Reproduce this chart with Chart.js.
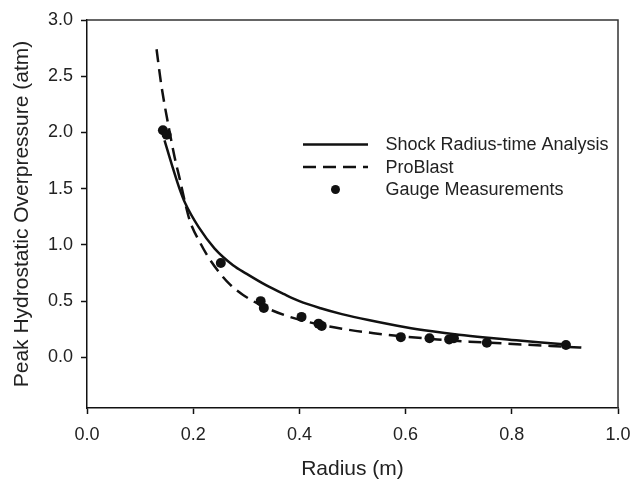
<!DOCTYPE html>
<html><head><meta charset="utf-8">
<script src="https://cdn.jsdelivr.net/npm/chart.js@4/dist/chart.umd.min.js"></script>
<style>html,body{margin:0;padding:0;background:#fff}</style>
</head><body>
<canvas id="c" width="632" height="482"></canvas>
<script>
// Shock Radius-time Analysis (solid)
const shockRadius = [0.146,0.16,0.175,0.185,0.21,0.24,0.275,0.30,0.338,0.37,0.40,0.44,0.48,0.53,0.60,0.65,0.70,0.75,0.80,0.85,0.903];
const shockPressure = [1.93,1.71,1.49,1.37,1.16,0.97,0.82,0.745,0.64,0.565,0.50,0.437,0.385,0.332,0.268,0.232,0.202,0.177,0.155,0.134,0.115];
// ProBlast (dashed)
const proRadius = [0.131,0.14,0.155,0.165,0.175,0.185,0.194,0.213,0.23,0.25,0.27,0.294,0.338,0.382,0.43,0.48,0.54,0.60,0.66,0.72,0.78,0.84,0.90,0.941];
const proPressure = [2.74,2.42,2.02,1.78,1.58,1.37,1.21,1.02,0.88,0.75,0.645,0.555,0.44,0.36,0.30,0.255,0.215,0.185,0.16,0.14,0.125,0.11,0.095,0.085];
// Gauge Measurements (dots)
const gaugeRadius = [0.143,0.150,0.252,0.327,0.333,0.404,0.436,0.442,0.591,0.645,0.682,0.691,0.753,0.902];
const gaugePressure = [2.02,1.98,0.84,0.50,0.44,0.36,0.30,0.28,0.18,0.17,0.16,0.17,0.13,0.11];
// Tick labels
const xTicks = [0.0,0.2,0.4,0.6,0.8,1.0];
const yTicks = [0.0,0.5,1.0,1.5,2.0,2.5,3.0];
const seriesNames = ['Shock Radius-time Analysis','ProBlast','Gauge Measurements'];

const INK = '#111';
const TXT = '#222';
const FONT = "'Liberation Sans', Arial, sans-serif";

const pts = (xs, ys) => xs.map((x, i) => ({x, y: ys[i]}));

const framePlugin = {
  id: 'frame',
  afterDatasetsDraw(chart) {
    const {ctx, chartArea: a} = chart;
    ctx.save();
    ctx.strokeStyle = '#333';
    ctx.lineWidth = 1.5;
    ctx.beginPath();
    ctx.moveTo(a.left, a.top);
    ctx.lineTo(a.right, a.top);
    ctx.lineTo(a.right, a.bottom);
    ctx.stroke();
    ctx.restore();
  }
};

const legendPlugin = {
  id: 'customLegend',
  afterDraw(chart) {
    const {ctx} = chart;
    const x0 = 303, x1 = 368, tx = 385.5;
    const rows = [144.5, 167, 189.5];
    ctx.save();
    chart.data.datasets.forEach((ds, i) => {
      const y = rows[i];
      if (ds.showLine) {
        ctx.strokeStyle = ds.borderColor;
        ctx.lineWidth = ds.borderWidth;
        ctx.setLineDash(ds.borderDash || []);
        ctx.beginPath();
        ctx.moveTo(x0, y);
        ctx.lineTo(x1, y);
        ctx.stroke();
        ctx.setLineDash([]);
      } else {
        ctx.fillStyle = ds.backgroundColor;
        ctx.beginPath();
        ctx.arc((x0 + x1) / 2, y, 4.5, 0, Math.PI * 2);
        ctx.fill();
      }
      ctx.fillStyle = TXT;
      ctx.font = "18px " + FONT;
      ctx.textBaseline = 'middle';
      ctx.textAlign = 'left';
      ctx.fillText(ds.label, tx, y + 1);
    });
    ctx.restore();
  }
};

new Chart(document.getElementById('c'), {
  type: 'scatter',
  data: {
    datasets: [
      { label: seriesNames[0], data: pts(shockRadius, shockPressure), showLine: true,
        borderColor: INK, borderWidth: 2.5, pointRadius: 0, cubicInterpolationMode: 'monotone', fill: false },
      { label: seriesNames[1], data: pts(proRadius, proPressure), showLine: true,
        borderColor: INK, borderWidth: 2.5, borderDash: [13, 7], pointRadius: 0, cubicInterpolationMode: 'monotone', fill: false },
      { label: seriesNames[2], data: pts(gaugeRadius, gaugePressure), showLine: false,
        backgroundColor: INK, borderColor: INK, pointRadius: 5, pointBorderWidth: 0 }
    ]
  },
  options: {
    responsive: false,
    animation: false,
    events: [],
    layout: { padding: { left: 0, right: 0, top: 20, bottom: 0 } },
    plugins: { legend: { display: false }, tooltip: { enabled: false } },
    scales: {
      x: {
        type: 'linear', min: 0, max: 1.0,
        afterBuildTicks: s => { s.ticks = xTicks.map(v => ({value: v})); },
        afterFit: s => { s.height = 74; s.paddingRight = 14; s.paddingLeft = 0; },
        ticks: { padding: 10, color: TXT, font: { size: 18, family: FONT }, callback: v => v.toFixed(1), maxRotation: 0 },
        grid: { display: true, drawOnChartArea: false, drawTicks: true, tickLength: 6, tickColor: INK, tickWidth: 1.5 },
        border: { display: true, color: INK, width: 1.5 },
        title: { display: true, text: 'Radius (m)', color: TXT, font: { size: 21, family: FONT }, padding: { top: 0, bottom: 0 } }
      },
      y: {
        type: 'linear', min: -0.45, max: 3.0,
        afterBuildTicks: s => { s.ticks = yTicks.map(v => ({value: v})); },
        afterFit: s => { s.width = 87; },
        ticks: { padding: 8, color: TXT, font: { size: 18, family: FONT }, callback: v => v.toFixed(1) },
        grid: { display: true, drawOnChartArea: false, drawTicks: true, tickLength: 6, tickColor: INK, tickWidth: 1.5 },
        border: { display: true, color: INK, width: 1.5 },
        title: { display: true, text: 'Peak Hydrostatic Overpressure (atm)', color: TXT, font: { size: 21, family: FONT }, padding: { top: 10, bottom: 0 } }
      }
    }
  },
  plugins: [framePlugin, legendPlugin]
});
</script>
</body></html>
